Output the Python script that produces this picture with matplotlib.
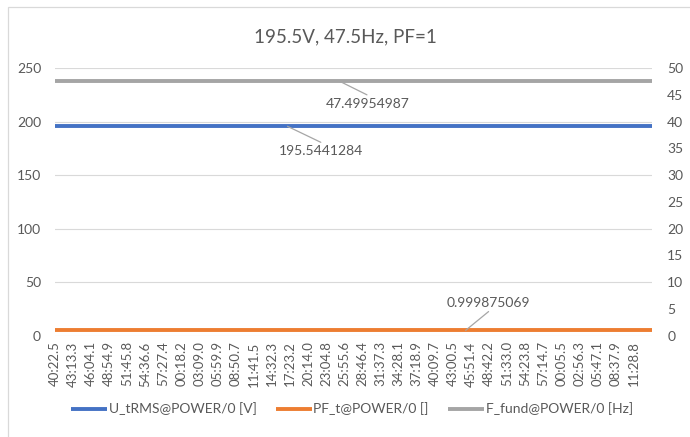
import matplotlib
matplotlib.use("Agg")
import matplotlib.pyplot as plt
from matplotlib.patches import Rectangle

plt.rcParams['font.family'] = ['Lato', 'DejaVu Sans']

# category labels (time stamps), the last point has no visible label
times = ['40:22.5', '43:13.3', '46:04.1', '48:54.9', '51:45.8', '54:36.6',
         '57:27.4', '00:18.2', '03:09.0', '05:59.9', '08:50.7', '11:41.5',
         '14:32.3', '17:23.2', '20:14.0', '23:04.8', '25:55.6', '28:46.4',
         '31:37.3', '34:28.1', '37:18.9', '40:09.7', '43:00.5', '45:51.4',
         '48:42.2', '51:33.0', '54:23.8', '57:14.7', '00:05.5', '02:56.3',
         '05:47.1', '08:37.9', '11:28.8', '14:19.6']
n_labels = 33

u_rms = [195.5441284] * len(times)   # left axis [V]
pf = [0.999875069] * len(times)      # right axis []
f_fund = [47.49954987] * len(times)  # right axis [Hz]

blue = '#4472C4'
orange = '#ED7D31'
grey = '#A5A5A5'
txt = '#595959'

fig = plt.figure(figsize=(6.9, 4.37), dpi=100)
ax = fig.add_axes([55 / 690, 1 - 335.7 / 437, 597 / 690, 267.7 / 437])
ax2 = ax.twinx()

x = list(range(len(times)))
l1, = ax.plot(x, u_rms, color=blue, lw=2.8, solid_capstyle='butt')
l2, = ax2.plot(x, pf, color=orange, lw=2.8, solid_capstyle='butt')
l3, = ax2.plot(x, f_fund, color=grey, lw=2.8, solid_capstyle='butt')

ax.set_xlim(0, len(times) - 1)
ax.set_ylim(0, 250)
ax2.set_ylim(0, 50)
ax.set_yticks(range(0, 251, 50))
ax2.set_yticks(range(0, 51, 5))
ax.set_xticks(x[:n_labels])
ax.set_xticklabels(times[:n_labels], rotation=90)

ax.grid(axis='y', color='#D9D9D9', lw=0.8)
ax.set_axisbelow(True)
for a in (ax, ax2):
    for s in a.spines.values():
        s.set_visible(False)
    a.tick_params(length=0, colors=txt, labelsize=10)
ax.tick_params(axis='x', labelsize=9.5, pad=4)
ax.tick_params(axis='y', pad=10)
ax2.tick_params(axis='y', pad=11)
ax.set_zorder(ax2.get_zorder() + 1)
ax.patch.set_visible(False)

# data labels with leader lines
lead = dict(arrowstyle='-', color='#A6A6A6', lw=0.9, shrinkA=0, shrinkB=0)
ax.annotate(f'{u_rms[13]:.7f}', xy=(12.85, u_rms[13]), xytext=(24, -18),
            textcoords='offset points', ha='center', va='center',
            fontsize=10, color=txt,
            arrowprops=dict(lead, relpos=(0.5, 1.25)))
ax2.annotate(f'{f_fund[16]:.8f}', xy=(15.75, f_fund[16]), xytext=(20, -16),
             textcoords='offset points', ha='center', va='center',
             fontsize=10, color=txt,
             arrowprops=dict(lead, relpos=(0.5, 1.2)))
ax2.annotate(f'{pf[23]:.9f}', xy=(22.7, pf[23]), xytext=(16.5, 20),
             textcoords='offset points', ha='center', va='center',
             fontsize=10, color=txt,
             arrowprops=dict(lead, relpos=(0.5, -0.25)))

fig.text(0.5, 1 - 37 / 437, '195.5V, 47.5Hz, PF=1', ha='center', va='center',
         fontsize=13.5, color=txt)

fig.legend([l1, l2, l3],
           ['U_tRMS@POWER/0 [V]', 'PF_t@POWER/0 []', 'F_fund@POWER/0 [Hz]'],
           loc='center', bbox_to_anchor=(0.51, 1 - 409 / 437), ncol=3,
           frameon=False, fontsize=10, labelcolor=txt, handlelength=2.6,
           handletextpad=0.1, columnspacing=1.4)

fig.patches.append(Rectangle((8 / 690, -0.1), 1.2, 1.1 - 7 / 437,
                             transform=fig.transFigure, fill=False,
                             edgecolor='#D9D9D9', lw=0.9))

fig.savefig('out.png', dpi=100)
